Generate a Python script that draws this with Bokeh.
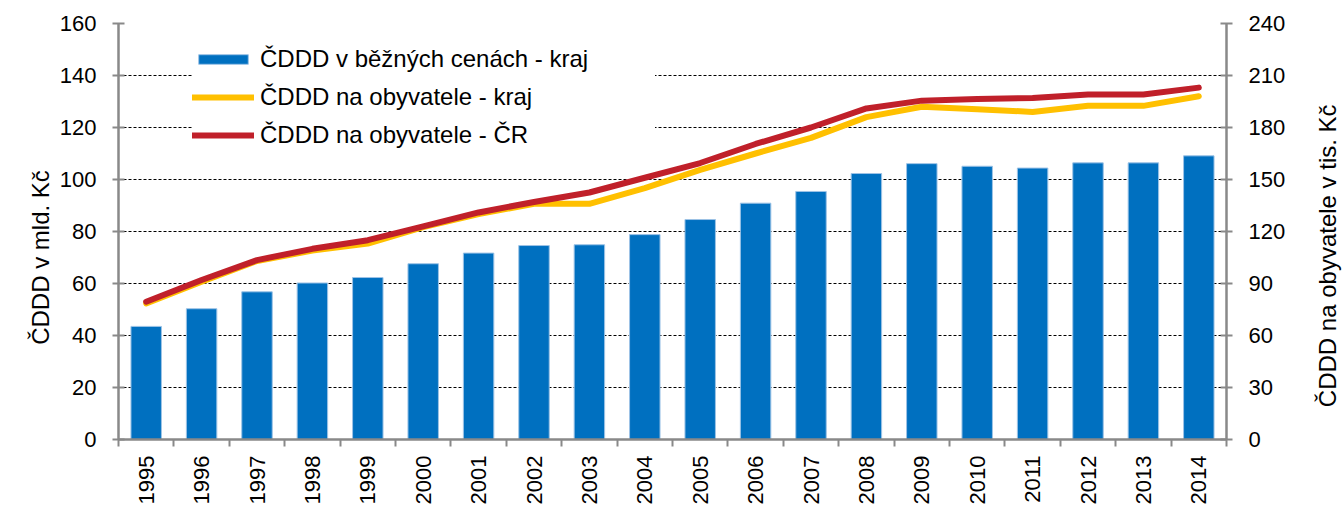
import math
from bokeh.plotting import figure
from bokeh.layouts import row
from bokeh.models import (Range1d, LinearAxis, FixedTicker, Legend, LegendItem,
                          ColumnDataSource, Grid)
from bokeh.core.properties import value
from bokeh.embed import file_html
from bokeh.resources import INLINE

# ---- data ----
years = [str(y) for y in range(1995, 2015)]
gdp_region = [43.5, 50.3, 56.8, 60.2, 62.3, 67.6, 71.7, 74.6, 74.9, 78.8,
              84.6, 90.9, 95.4, 102.3, 106.1, 105.1, 104.4, 106.4, 106.4, 109.1]
per_cap_region = [78.5, 91.0, 103.0, 109.0, 113.0, 122.5, 130.0, 136.0, 136.0, 145.0,
                  155.5, 165.0, 174.0, 186.0, 192.0, 190.5, 189.0, 192.5, 192.5, 198.0]
per_cap_cr = [79.5, 92.0, 103.5, 110.0, 115.0, 123.0, 131.0, 137.0, 142.5, 151.0,
              159.5, 170.5, 180.0, 191.0, 195.5, 196.5, 197.0, 199.0, 199.0, 203.0]
left_ticks = list(range(0, 161, 20))
right_ticks = list(range(0, 241, 30))
labels = ["ČDDD v běžných cenách - kraj", "ČDDD na obyvatele - kraj", "ČDDD na obyvatele - ČR"]
left_title = "ČDDD v mld. Kč"
right_title = "ČDDD na obyvatele v tis. Kč"

FONT = "Liberation Sans"
TICK_FS = "22px"
TITLE_FS = "24px"
AX = "#898989"

TOP, FRAME_H, BOTTOM = 23, 416, 68

xs = list(range(len(years)))
src = ColumnDataSource(dict(x=xs, gdp=gdp_region, reg=per_cap_region, cr=per_cap_cr))

y_left = Range1d(0, 160)
y_right = Range1d(0, 240)

p = figure(frame_width=1108, frame_height=FRAME_H,
           min_border_left=61, min_border_right=84, min_border_top=TOP, min_border_bottom=BOTTOM,
           x_range=Range1d(-0.5, len(years) - 0.5), y_range=y_left,
           x_axis_type=None, y_axis_type=None,
           output_backend="svg", toolbar_location=None)
p.extra_y_ranges = {"pc": y_right}
p.outline_line_color = None
p.background_fill_color = "white"
p.border_fill_color = "white"

p.add_layout(Grid(dimension=1, ticker=FixedTicker(ticks=left_ticks[1:]),
                  grid_line_color="black", grid_line_dash="3 2", grid_line_width=1))


def style_axis(ax):
    ax.axis_line_color = AX
    ax.axis_line_width = 2.5
    ax.major_tick_line_color = AX
    ax.major_tick_line_width = 2
    ax.minor_tick_line_color = None
    ax.major_label_text_font = FONT
    ax.major_label_text_font_size = TICK_FS
    ax.major_label_text_color = "black"


left = LinearAxis(ticker=FixedTicker(ticks=left_ticks))
style_axis(left)
left.major_tick_in = 6
left.major_tick_out = 6
left.major_label_standoff = 16
p.add_layout(left, "left")

right = LinearAxis(y_range_name="pc", ticker=FixedTicker(ticks=right_ticks))
style_axis(right)
right.major_tick_in = 6
right.major_tick_out = 6
right.major_label_standoff = 16
p.add_layout(right, "right")

bottom = LinearAxis(ticker=FixedTicker(ticks=xs, minor_ticks=[i - 0.5 for i in range(len(years) + 1)]),
                    major_label_overrides={i: y for i, y in enumerate(years)})
style_axis(bottom)
bottom.major_tick_in = 0
bottom.major_tick_out = 0
bottom.minor_tick_line_color = AX
bottom.minor_tick_line_width = 2
bottom.minor_tick_in = 0
bottom.minor_tick_out = 7
bottom.major_label_orientation = math.pi / 2
bottom.major_label_standoff = 9
p.add_layout(bottom, "below")

r_bar = p.vbar(x="x", top="gdp", width=0.55, source=src,
               fill_color="#0070C0", line_color="#9DC3E6", line_width=1)
r_reg = p.line(x="x", y="reg", source=src, y_range_name="pc",
               line_color="#FFC000", line_width=6, line_cap="round", line_join="round")
r_cr = p.line(x="x", y="cr", source=src, y_range_name="pc",
              line_color="#C0202A", line_width=6, line_cap="round", line_join="round")

legend = Legend(items=[LegendItem(label=labels[0], renderers=[r_bar]),
                       LegendItem(label=labels[1], renderers=[r_reg]),
                       LegendItem(label=labels[2], renderers=[r_cr])],
                location=(74, 290), glyph_width=62, glyph_height=12, label_height=28,
                spacing=10, padding=8, label_standoff=6, label_width=395,
                border_line_color=None, background_fill_color="white", background_fill_alpha=1,
                label_text_font=FONT, label_text_font_size=TITLE_FS, label_text_color="black")
p.add_layout(legend)


def title_strip(text, y_range, y_mid, frame_w, border_left):
    """Narrow panel holding a vertical axis title that reads bottom-to-top."""
    q = figure(frame_width=frame_w, frame_height=FRAME_H,
               min_border_left=border_left, min_border_right=0,
               min_border_top=TOP, min_border_bottom=BOTTOM,
               x_range=Range1d(0, 1), y_range=y_range,
               x_axis_type=None, y_axis_type=None,
               output_backend="svg", toolbar_location=None)
    q.outline_line_color = None
    q.grid.visible = False
    q.text(x=[0.5], y=[y_mid], text=[text], angle=math.pi / 2,
           text_align="center", text_baseline="middle",
           text_font=value(FONT), text_font_size=value(TITLE_FS), text_color="black")
    return q


q_left = title_strip(left_title, y_left, 70, 32, 24)
q_right = title_strip(right_title, y_right, 106, 33, 0)

layout = row(q_left, p, q_right, spacing=0)

open("out.html", "w").write(file_html(layout, INLINE))
